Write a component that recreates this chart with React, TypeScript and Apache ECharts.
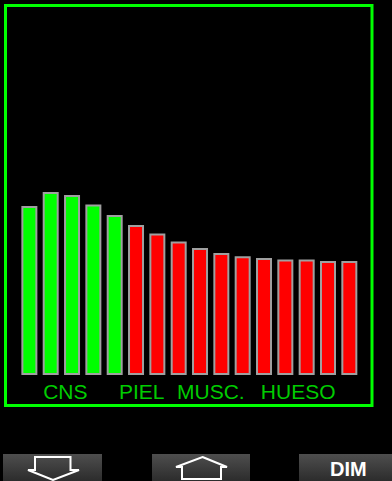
import React, { useEffect, useRef } from "react";
import * as echarts from "echarts";

// Tissue compartments (16), saturation levels in %
const compartments = ["1", "2", "3", "4", "5", "6", "7", "8", "9", "10", "11", "12", "13", "14", "15", "16"];
const saturation = [56.3, 61, 60, 56.8, 53.3, 50, 47.2, 44.5, 42.3, 40.7, 39.6, 39, 38.5, 38.5, 38, 38];
const greenCount = 5; // first compartments shown in green
const groupLabels = ["CNS", "PIEL", "MUSC.", "HUESO"];
const groupLabelX = [65.3, 141.7, 210.8, 298.2];
const buttonLabels = ["", "", "DIM"];

export default function App() {
  const ref = useRef<HTMLDivElement>(null);
  useEffect(() => {
    if (!ref.current) return;
    const chart = echarts.init(ref.current, null, { renderer: "svg" });
    const font = "'Liberation Sans', Arial, sans-serif";
    const btnFill = new echarts.graphic.LinearGradient(0, 0, 0, 1, [
      { offset: 0, color: "#4e4e4e" },
      { offset: 1, color: "#2c2c2c" },
    ]);
    const buttons = [
      { x: 3, w: 99 },
      { x: 152, w: 98 },
      { x: 299, w: 93 },
    ];
    const graphics: any[] = [
      {
        type: "rect",
        shape: { x: 5.5, y: 5.5, width: 366.5, height: 400 },
        style: { fill: "none", stroke: "#00ff00", lineWidth: 3 },
        z: 10,
      },
      ...groupLabels.map((t, i) => ({
        type: "text",
        x: groupLabelX[i],
        y: 391,
        style: {
          text: t,
          fill: "#00cc00",
          font: `21px ${font}`,
          textAlign: "center",
          textVerticalAlign: "middle",
        },
        z: 10,
      })),
      ...buttons.map((b) => ({
        type: "rect",
        shape: { x: b.x, y: 454, width: b.w, height: 27 },
        style: { fill: btnFill },
        z: 5,
      })),
      {
        type: "polygon",
        shape: {
          points: [
            [35, 457],
            [70.5, 457],
            [70.5, 470],
            [79, 470],
            [53, 480],
            [28, 470],
            [35, 470],
          ],
        },
        style: { fill: "none", stroke: "#ffffff", lineWidth: 2 },
        z: 6,
      },
      {
        type: "polygon",
        shape: {
          points: [
            [202.5, 457],
            [227, 467],
            [221, 467],
            [221, 479],
            [182, 479],
            [182, 467],
            [176, 467],
          ],
        },
        style: { fill: "none", stroke: "#ffffff", lineWidth: 2 },
        z: 6,
      },
      {
        type: "text",
        x: 348.3,
        y: 468.5,
        style: {
          text: buttonLabels[2],
          fill: "#ffffff",
          font: `bold 20px ${font}`,
          textAlign: "center",
          textVerticalAlign: "middle",
        },
        z: 6,
      },
    ];
    chart.setOption({
      animation: false,
      backgroundColor: "#000000",
      grid: { left: 18.7, width: 341.3, top: 75, height: 300 },
      xAxis: {
        type: "category",
        data: compartments,
        axisLine: { show: false },
        axisTick: { show: false },
        axisLabel: { show: false },
        splitLine: { show: false },
      },
      yAxis: {
        type: "value",
        min: 0,
        max: 100,
        show: false,
        splitLine: { show: false },
      },
      series: [
        {
          type: "bar",
          data: saturation.map((v, i) => ({
            value: v,
            itemStyle: { color: i < greenCount ? "#00ff00" : "#ff0000" },
          })),
          barWidth: 16,
          itemStyle: { borderColor: "#a0a0a0", borderWidth: 2 },
        },
      ],
      graphic: graphics,
    });
    return () => chart.dispose();
  }, []);
  return (
    <div
      ref={ref}
      style={{ position: "absolute", left: 0, top: 0, width: 392, height: 481, background: "#000" }}
    />
  );
}
